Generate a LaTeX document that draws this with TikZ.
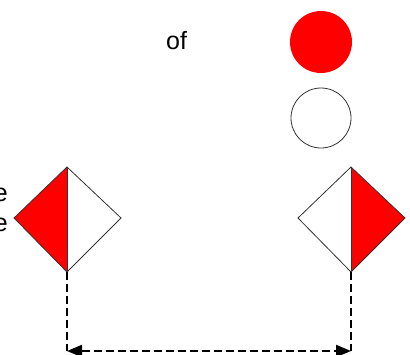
\documentclass[tikz,border=0pt]{standalone}
\usepackage{fontspec}
\setmainfont{Liberation Sans}
\usetikzlibrary{arrows.meta}
\definecolor{flagred}{RGB}{255,0,0}
\tikzset{
  px/.style={x=1pt,y=-1pt},
  outline/.style={draw=black!80,line width=0.8pt},
  redhalf/.style={fill=flagred},
  label/.style={font=\fontsize{25}{30}\selectfont,inner sep=0pt},
  dimline/.style={line width=2pt,dash pattern=on 8pt off 4pt},
  dimarrow/.style={line width=2pt,dash pattern=on 8pt off 4pt,{Triangle[length=15pt,width=12pt]}-{Triangle[length=15pt,width=12pt]}}
}
\begin{document}
\begin{tikzpicture}[px]
\useasboundingbox (0,0) rectangle (410,354);
% left diamond
\coordinate (LT) at (67,167);
\coordinate (LB) at (67,272);
\coordinate (LL) at (14,218);
\coordinate (LR) at (121,218);
\fill[redhalf] (LT) -- (LL) -- (LB) -- cycle;
\draw[outline] (LT) -- (LL) -- (LB) -- (LR) -- cycle;
\draw[outline] (LT) -- (LB);
% right diamond
\coordinate (RT) at (351,167);
\coordinate (RB) at (351,272);
\coordinate (RL) at (298,218);
\coordinate (RR) at (405,218);
\fill[redhalf] (RT) -- (RR) -- (RB) -- cycle;
\draw[outline] (RT) -- (RL) -- (RB) -- (RR) -- cycle;
\draw[outline] (RT) -- (RB);
% circles
\node[circle,fill=flagred,minimum size=62pt,inner sep=0pt] (redc) at (321,42) {};
\node[circle,outline,minimum size=60pt,inner sep=0pt] (whitec) at (321,118) {};
% texts
\node[label,anchor=base west] (of) at (166,49) {of};
\node[label,anchor=base east] (e1) at (8,201) {e};
\node[label,anchor=base east] (e2) at (8,231) {e};
% dimension
\coordinate (DL) at (67,351);
\coordinate (DR) at (351,351);
\draw[dimline] (LB) -- (DL);
\draw[dimline] (RB) -- (DR);
\draw[dimarrow] (DL) -- (DR);
\end{tikzpicture}
\end{document}
